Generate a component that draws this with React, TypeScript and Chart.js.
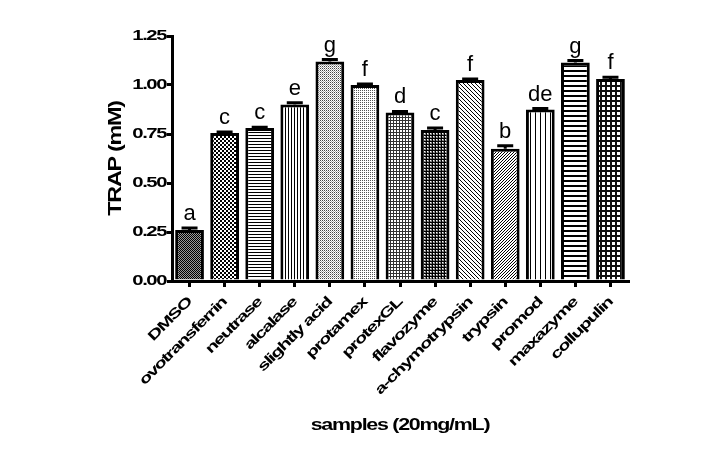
import React, { useEffect, useRef } from "react";
import { Chart, registerables } from "chart.js";

Chart.register(...registerables);

const categories = [
  "DMSO",
  "ovotransferrin",
  "neutrase",
  "alcalase",
  "slightly acid",
  "protamex",
  "protexGL",
  "flavozyme",
  "a-chymotrypsin",
  "trypsin",
  "promod",
  "maxazyme",
  "collupulin",
];
const values = [0.26, 0.755, 0.78, 0.9, 1.12, 1.0, 0.86, 0.77, 1.025, 0.675, 0.875, 1.115, 1.03];
const errors = [0.01, 0.005, 0.005, 0.01, 0.01, 0.005, 0.005, 0.01, 0.005, 0.015, 0.005, 0.01, 0.01];
const letters = ["a", "c", "c", "e", "g", "f", "d", "c", "f", "b", "de", "g", "f"];
const yTicks = [0, 0.25, 0.5, 0.75, 1.0, 1.25];

const FAMILY = "'Liberation Sans', Arial, sans-serif";

type PixFn = (x: number, y: number) => string | null;

function makePattern(ctx: CanvasRenderingContext2D, w: number, h: number, fn: PixFn) {
  const c = document.createElement("canvas");
  c.width = w;
  c.height = h;
  const t = c.getContext("2d")!;
  t.fillStyle = "#fff";
  t.fillRect(0, 0, w, h);
  for (let y = 0; y < h; y++) {
    for (let x = 0; x < w; x++) {
      const col = fn(x, y);
      if (col) {
        t.fillStyle = col;
        t.fillRect(x, y, 1, 1);
      }
    }
  }
  return ctx.createPattern(c, "repeat")!;
}

function buildPatterns(ctx: CanvasRenderingContext2D) {
  const K = "#000";
  return [
    makePattern(ctx, 2, 2, (x, y) => ((x + y) % 2 === 0 ? K : "#999")),
    makePattern(ctx, 4, 4, (x, y) => ((Math.floor(x / 2) + Math.floor(y / 2)) % 2 === 0 ? K : null)),
    makePattern(ctx, 3, 3, (x, y) => (y === 0 ? K : null)),
    makePattern(ctx, 3, 3, (x, y) => (x === 0 ? K : null)),
    makePattern(ctx, 2, 2, (x, y) => (x === 0 && y === 0 ? "#444" : x === 1 && y === 1 ? "#aaa" : null)),
    makePattern(ctx, 2, 2, (x, y) => (x === 0 && y === 0 ? "#555" : null)),
    makePattern(ctx, 3, 3, (x, y) => (x === 0 || y === 0 ? "#333" : null)),
    makePattern(ctx, 3, 3, (x, y) => (x === 0 || y === 0 ? K : x === 1 && y === 1 ? null : "#888")),
    makePattern(ctx, 4, 4, (x, y) => (x === y ? K : null)),
    makePattern(ctx, 3, 3, (x, y) => ((x + y) % 3 === 2 ? K : null)),
    makePattern(ctx, 5, 5, (x, y) => (x === 0 ? K : null)),
    makePattern(ctx, 5, 5, (x, y) => (y <= 1 ? K : null)),
    makePattern(ctx, 5, 5, (x, y) => (x <= 1 || y <= 1 ? "#111" : null)),
  ];
}

// horizontal stretch factor along the writing direction, by font size
const stretchBySize: Record<number, number> = { 14: 1.45, 17: 1.26, 18: 1.3 };

const stretchPlugin = {
  id: "stretch",
  beforeDraw(chart: any) {
    const ctx = chart.ctx as any;
    ctx.letterSpacing = "-1px";
    if (!ctx.__orig) {
      const orig = ctx.fillText.bind(ctx);
      ctx.__orig = orig;
      ctx.fillText = (text: string, x: number, y: number, maxWidth?: number) => {
        if (!ctx.__stretch) return orig(text, x, y, maxWidth);
        const m = /(\d+(?:\.\d+)?)px/.exec(ctx.font);
        const size = m ? Math.round(parseFloat(m[1])) : 0;
        const sx = stretchBySize[size] || 1;
        ctx.save();
        ctx.translate(x, y);
        ctx.scale(sx, 1);
        orig(text, 0, 0);
        ctx.restore();
      };
    }
    ctx.__stretch = true;
  },
  afterDraw(chart: any) {
    (chart.ctx as any).__stretch = false;
  },
};

const annotPlugin = {
  id: "annot",
  afterDatasetsDraw(chart: any) {
    const ctx = chart.ctx as any;
    const meta = chart.getDatasetMeta(0);
    const y = chart.scales.y;
    const prev = ctx.__stretch;
    ctx.__stretch = false;
    ctx.save();
    meta.data.forEach((bar: any, i: number) => {
      const top = y.getPixelForValue(values[i] + errors[i]);
      const base = y.getPixelForValue(values[i]);
      ctx.strokeStyle = "#000";
      ctx.lineWidth = 3;
      ctx.beginPath();
      ctx.moveTo(bar.x, base);
      ctx.lineTo(bar.x, top);
      ctx.moveTo(bar.x - 8, top);
      ctx.lineTo(bar.x + 8, top);
      ctx.stroke();
      ctx.fillStyle = "#000";
      ctx.font = `22px ${FAMILY}`;
      ctx.textAlign = "center";
      ctx.textBaseline = "alphabetic";
      ctx.letterSpacing = "0px";
      ctx.fillText(letters[i], bar.x, top - 8);
    });
    ctx.restore();
    ctx.__stretch = prev;
  },
};

export default function App() {
  const ref = useRef<HTMLCanvasElement | null>(null);
  useEffect(() => {
    const canvas = ref.current!;
    const ctx = canvas.getContext("2d")!;
    const patterns = buildPatterns(ctx);
    const tickFont = { family: FAMILY, size: 14, weight: "bold" as const };
    const chart = new Chart(canvas, {
      type: "bar",
      data: {
        labels: categories,
        datasets: [
          {
            data: values,
            backgroundColor: patterns as any,
            borderColor: "#000",
            borderWidth: 3,
            categoryPercentage: 0.82,
            barPercentage: 1,
          },
        ],
      },
      options: {
        animation: false,
        responsive: false,
        devicePixelRatio: 1,
        layout: { padding: { left: 100, right: 73, top: 36, bottom: 0 } },
        plugins: { legend: { display: false }, tooltip: { enabled: false } },
        scales: {
          x: {
            grid: {
              offset: false,
              drawOnChartArea: false,
              tickLength: 6,
              lineWidth: 3,
              color: "#000",
            },
            border: { color: "#000", width: 3 },
            ticks: {
              color: "#000",
              font: tickFont,
              maxRotation: 45,
              minRotation: 45,
              padding: 7,
              autoSkip: false,
            },
            title: {
              display: true,
              text: "samples (20mg/mL)",
              color: "#000",
              font: { family: FAMILY, size: 17, weight: "bold" },
              padding: { top: 4, bottom: 19 },
            },
            afterFit: (s: any) => {
              s.height = 174;
            },
          },
          y: {
            min: 0,
            max: 1.25,
            afterBuildTicks: (s: any) => {
              s.ticks = yTicks.map((v) => ({ value: v }));
            },
            grid: {
              drawOnChartArea: false,
              tickLength: 5,
              lineWidth: 3,
              color: "#000",
            },
            border: { color: "#000", width: 3 },
            ticks: {
              color: "#000",
              font: tickFont,
              padding: 1,
              callback: (v: any) => Number(v).toFixed(2),
            },
            title: {
              display: true,
              text: "TRAP (mM)",
              color: "#000",
              font: { family: FAMILY, size: 18, weight: "bold" },
              padding: { top: 5, bottom: 0 },
            },
            afterFit: (s: any) => {
              s.width = 72;
            },
          },
        },
      },
      plugins: [stretchPlugin, annotPlugin],
    });
    return () => chart.destroy();
  }, []);
  return (
    <div style={{ position: "absolute", left: 0, top: 0, width: 701, height: 455, background: "#fff" }}>
      <canvas ref={ref} width={701} height={455} style={{ width: 701, height: 455 }} />
    </div>
  );
}
